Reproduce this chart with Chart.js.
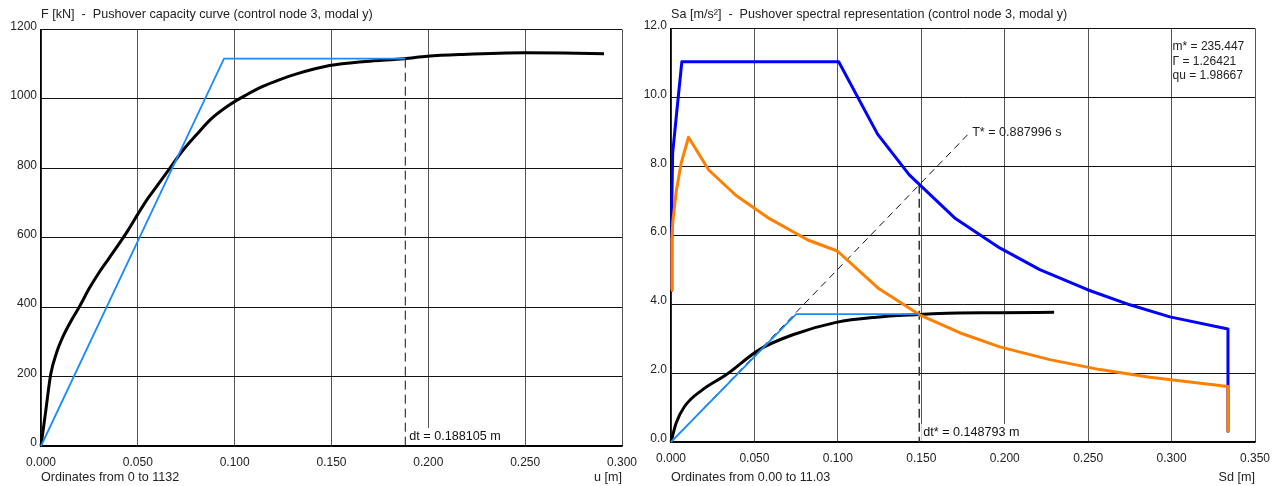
<!DOCTYPE html>
<html>
<head>
<meta charset="UTF-8">
<title>Pushover</title>
<script src="https://cdn.jsdelivr.net/npm/chart.js"></script>
<style>
  body { margin: 0; background: #fff; }
  #wrap { position: relative; width: 1274px; height: 486px; }
  canvas { position: absolute; top: 0; }
</style>
</head>
<body>
<div id="wrap">
  <canvas id="capChart" width="637" height="486" style="left:0"></canvas>
  <canvas id="specChart" width="637" height="486" style="left:637px"></canvas>
</div>
<script>
// ---- capacity curve (left) ----
const capU = [0, 0.0025, 0.005, 0.008, 0.0115, 0.016, 0.020, 0.025, 0.030, 0.035, 0.040, 0.045, 0.050, 0.055, 0.060, 0.0665, 0.073, 0.080, 0.088, 0.0974, 0.1055, 0.1145, 0.123, 0.132, 0.149, 0.1676, 0.1876, 0.1995, 0.2166, 0.2498, 0.270, 0.2907];
const capF = [0, 103, 206, 268, 317, 365, 403, 455, 500, 540, 580, 622, 668, 712, 750, 800, 850, 895, 943, 983, 1010, 1036, 1055, 1072, 1096, 1108, 1116, 1123, 1128, 1133, 1132, 1130];
const biU = [0, 0.0945, 0.188105];
const biF = [0, 1116, 1116];
const dt = 0.188105;

// ---- spectral representation (right) ----
const specSd = [0, 0.0005, 0.001, 0.0037, 0.0065, 0.03, 0.06, 0.1005, 0.1238, 0.1428, 0.170, 0.197, 0.221, 0.250, 0.275, 0.299, 0.3338, 0.3338];
const specSa = [4.4, 7.02, 8.38, 9.70, 11.03, 11.03, 11.03, 11.03, 8.93, 7.75, 6.50, 5.63, 5.00, 4.41, 3.98, 3.63, 3.28, 0.31];
const inelSd = [0, 0.0005, 0.0011, 0.0031, 0.0061, 0.0105, 0.0226, 0.039, 0.058, 0.082, 0.0997, 0.124, 0.149, 0.173, 0.197, 0.227, 0.257, 0.287, 0.3338, 0.3338];
const inelSa = [4.4, 5.86, 6.39, 7.26, 8.09, 8.84, 7.89, 7.15, 6.51, 5.86, 5.54, 4.47, 3.69, 3.17, 2.76, 2.39, 2.10, 1.88, 1.61, 0.31];
const capSd = [0, 0.0031, 0.0081, 0.019, 0.033, 0.053, 0.073, 0.099, 0.123, 0.149, 0.161, 0.197, 0.2296];
const capSa = [0, 0.55, 1.03, 1.52, 1.95, 2.68, 3.11, 3.47, 3.62, 3.70, 3.73, 3.75, 3.76];
const biSd = [0, 0.075, 0.148793];
const biSa = [0, 3.71, 3.71];
const tStarSd = [0, 0.1787];
const tStarSa = [0, 8.96];
const dtStar = 0.148793;
const dtStarTop = 7.46;
const infoLines = ['m* = 235.447', '\u0393 = 1.26421', 'qu = 1.98667'];

const FONT = '12.6px "Liberation Sans", Arial, sans-serif';
const SMALL = '12px "Liberation Sans", Arial, sans-serif';
const pts = (xs, ys) => xs.map((x, i) => ({ x: x, y: ys[i] }));

function lineDs(data, color, width, dash, smooth) {
    return {
        data: data,
        borderColor: color,
        backgroundColor: color,
        borderWidth: width,
        borderDash: dash || [],
        pointRadius: 0,
        showLine: true,
        fill: false,
        tension: smooth ? 0.4 : 0,
        cubicInterpolationMode: smooth ? 'monotone' : 'default',
        clip: false,
        borderJoinStyle: 'round'
    };
}

function scalesFor(xMax, yMax, yStep, yFmt, yWidth, xHeight) {
    return {
        x: {
            type: 'linear', min: 0, max: xMax,
            ticks: { stepSize: 0.05, color: '#222', font: { family: '"Liberation Sans", Arial', size: 12 },
                     padding: 9, maxRotation: 0, callback: v => v.toFixed(3) },
            grid: { color: '#555', lineWidth: 1, drawTicks: false },
            border: { color: '#000', width: 1.5 },
            afterFit: s => { s.height = xHeight; s.paddingLeft = 0; s.paddingRight = 0; }
        },
        y: {
            type: 'linear', min: 0, max: yMax,
            ticks: { stepSize: yStep, color: '#222', font: { family: '"Liberation Sans", Arial', size: 12 },
                     padding: 4, labelOffset: -3, callback: yFmt },
            grid: { color: '#111', lineWidth: 1, drawTicks: false },
            border: { color: '#000', width: 1.5 },
            afterFit: s => { s.width = yWidth; s.paddingTop = 0; s.paddingBottom = 0; }
        }
    };
}

function textPlugin(drawFn) {
    return { id: 'texts', afterDraw: chart => { const c = chart.ctx; c.save(); drawFn(chart, c); c.restore(); } };
}

function labelBox(c, text, x, y) {
    c.font = FONT;
    const w = c.measureText(text).width;
    c.fillStyle = '#fff';
    c.fillRect(x, y - 9, w + 6, 17);
    c.fillStyle = '#111';
    c.textBaseline = 'middle';
    c.textAlign = 'left';
    c.fillText(text, x + 2, y);
}

// ---------- left chart ----------
// (dataset 0 is painted on top)
new Chart(document.getElementById('capChart'), {
    type: 'scatter',
    data: {
        datasets: [
            lineDs(pts(biU, biF), '#1a8cff', 1.8),
            lineDs(pts(capU, capF), '#000', 3, null, true),
            lineDs(pts([dt, dt], [biF[2], 0]), '#111', 1, [9, 5])
        ]
    },
    options: {
        responsive: false, animation: false,
        layout: { padding: { top: 29.5, right: 15, left: 0, bottom: 0 } },
        plugins: { legend: { display: false }, tooltip: { enabled: false } },
        scales: scalesFor(0.3, 1200, 200, v => String(v), 41, 40)
    },
    plugins: [textPlugin((chart, c) => {
        const a = chart.chartArea, xs = chart.scales.x;
        c.font = FONT; c.fillStyle = '#222'; c.textBaseline = 'middle';
        c.textAlign = 'left';
        c.fillText('F [kN]  -  Pushover capacity curve (control node 3, modal y)', a.left, 15);
        c.fillText('Ordinates from 0 to 1132', a.left, 478);
        c.textAlign = 'right';
        c.fillText('u [m]', a.right, 478);
        labelBox(c, 'dt = ' + dt.toFixed(6) + ' m', xs.getPixelForValue(dt) + 2, a.bottom - 9);
    })]
});

// ---------- right chart ----------
new Chart(document.getElementById('specChart'), {
    type: 'scatter',
    data: {
        datasets: [
            lineDs(pts(biSd, biSa), '#1a8cff', 1.8),
            lineDs(pts(inelSd, inelSa), '#ff8000', 3),
            lineDs(pts(specSd, specSa), '#0000ff', 3),
            lineDs(pts(capSd, capSa), '#000', 3, null, true),
            lineDs(pts([dtStar, dtStar], [dtStarTop, 0]), '#333', 1.5, [9, 5]),
            lineDs(pts(tStarSd, tStarSa), '#111', 1, [7, 5])
        ]
    },
    options: {
        responsive: false, animation: false,
        layout: { padding: { top: 28.3, right: 19, left: 0, bottom: 0 } },
        plugins: { legend: { display: false }, tooltip: { enabled: false } },
        scales: scalesFor(0.35, 12, 2, v => v.toFixed(1), 34, 44)
    },
    plugins: [textPlugin((chart, c) => {
        const a = chart.chartArea, xs = chart.scales.x, ys = chart.scales.y;
        c.font = FONT; c.fillStyle = '#222'; c.textBaseline = 'middle';
        c.textAlign = 'left';
        c.fillText('Sa [m/s\u00b2]  -  Pushover spectral representation (control node 3, modal y)', a.left, 15);
        c.fillText('Ordinates from 0.00 to 11.03', a.left, 478);
        c.fillText('T* = 0.887996 s', xs.getPixelForValue(tStarSd[1]) + 3, ys.getPixelForValue(tStarSa[1]) - 1);
        c.font = SMALL;
        const ix = xs.getPixelForValue(0.3) + 1;
        infoLines.forEach((t, i) => c.fillText(t, ix, 47 + i * 14.5));
        c.font = FONT;
        c.textAlign = 'right';
        c.fillText('Sd [m]', a.right, 478);
        labelBox(c, 'dt* = ' + dtStar.toFixed(6) + ' m', xs.getPixelForValue(dtStar) + 2, a.bottom - 9);
    })]
});
</script>
</body>
</html>
